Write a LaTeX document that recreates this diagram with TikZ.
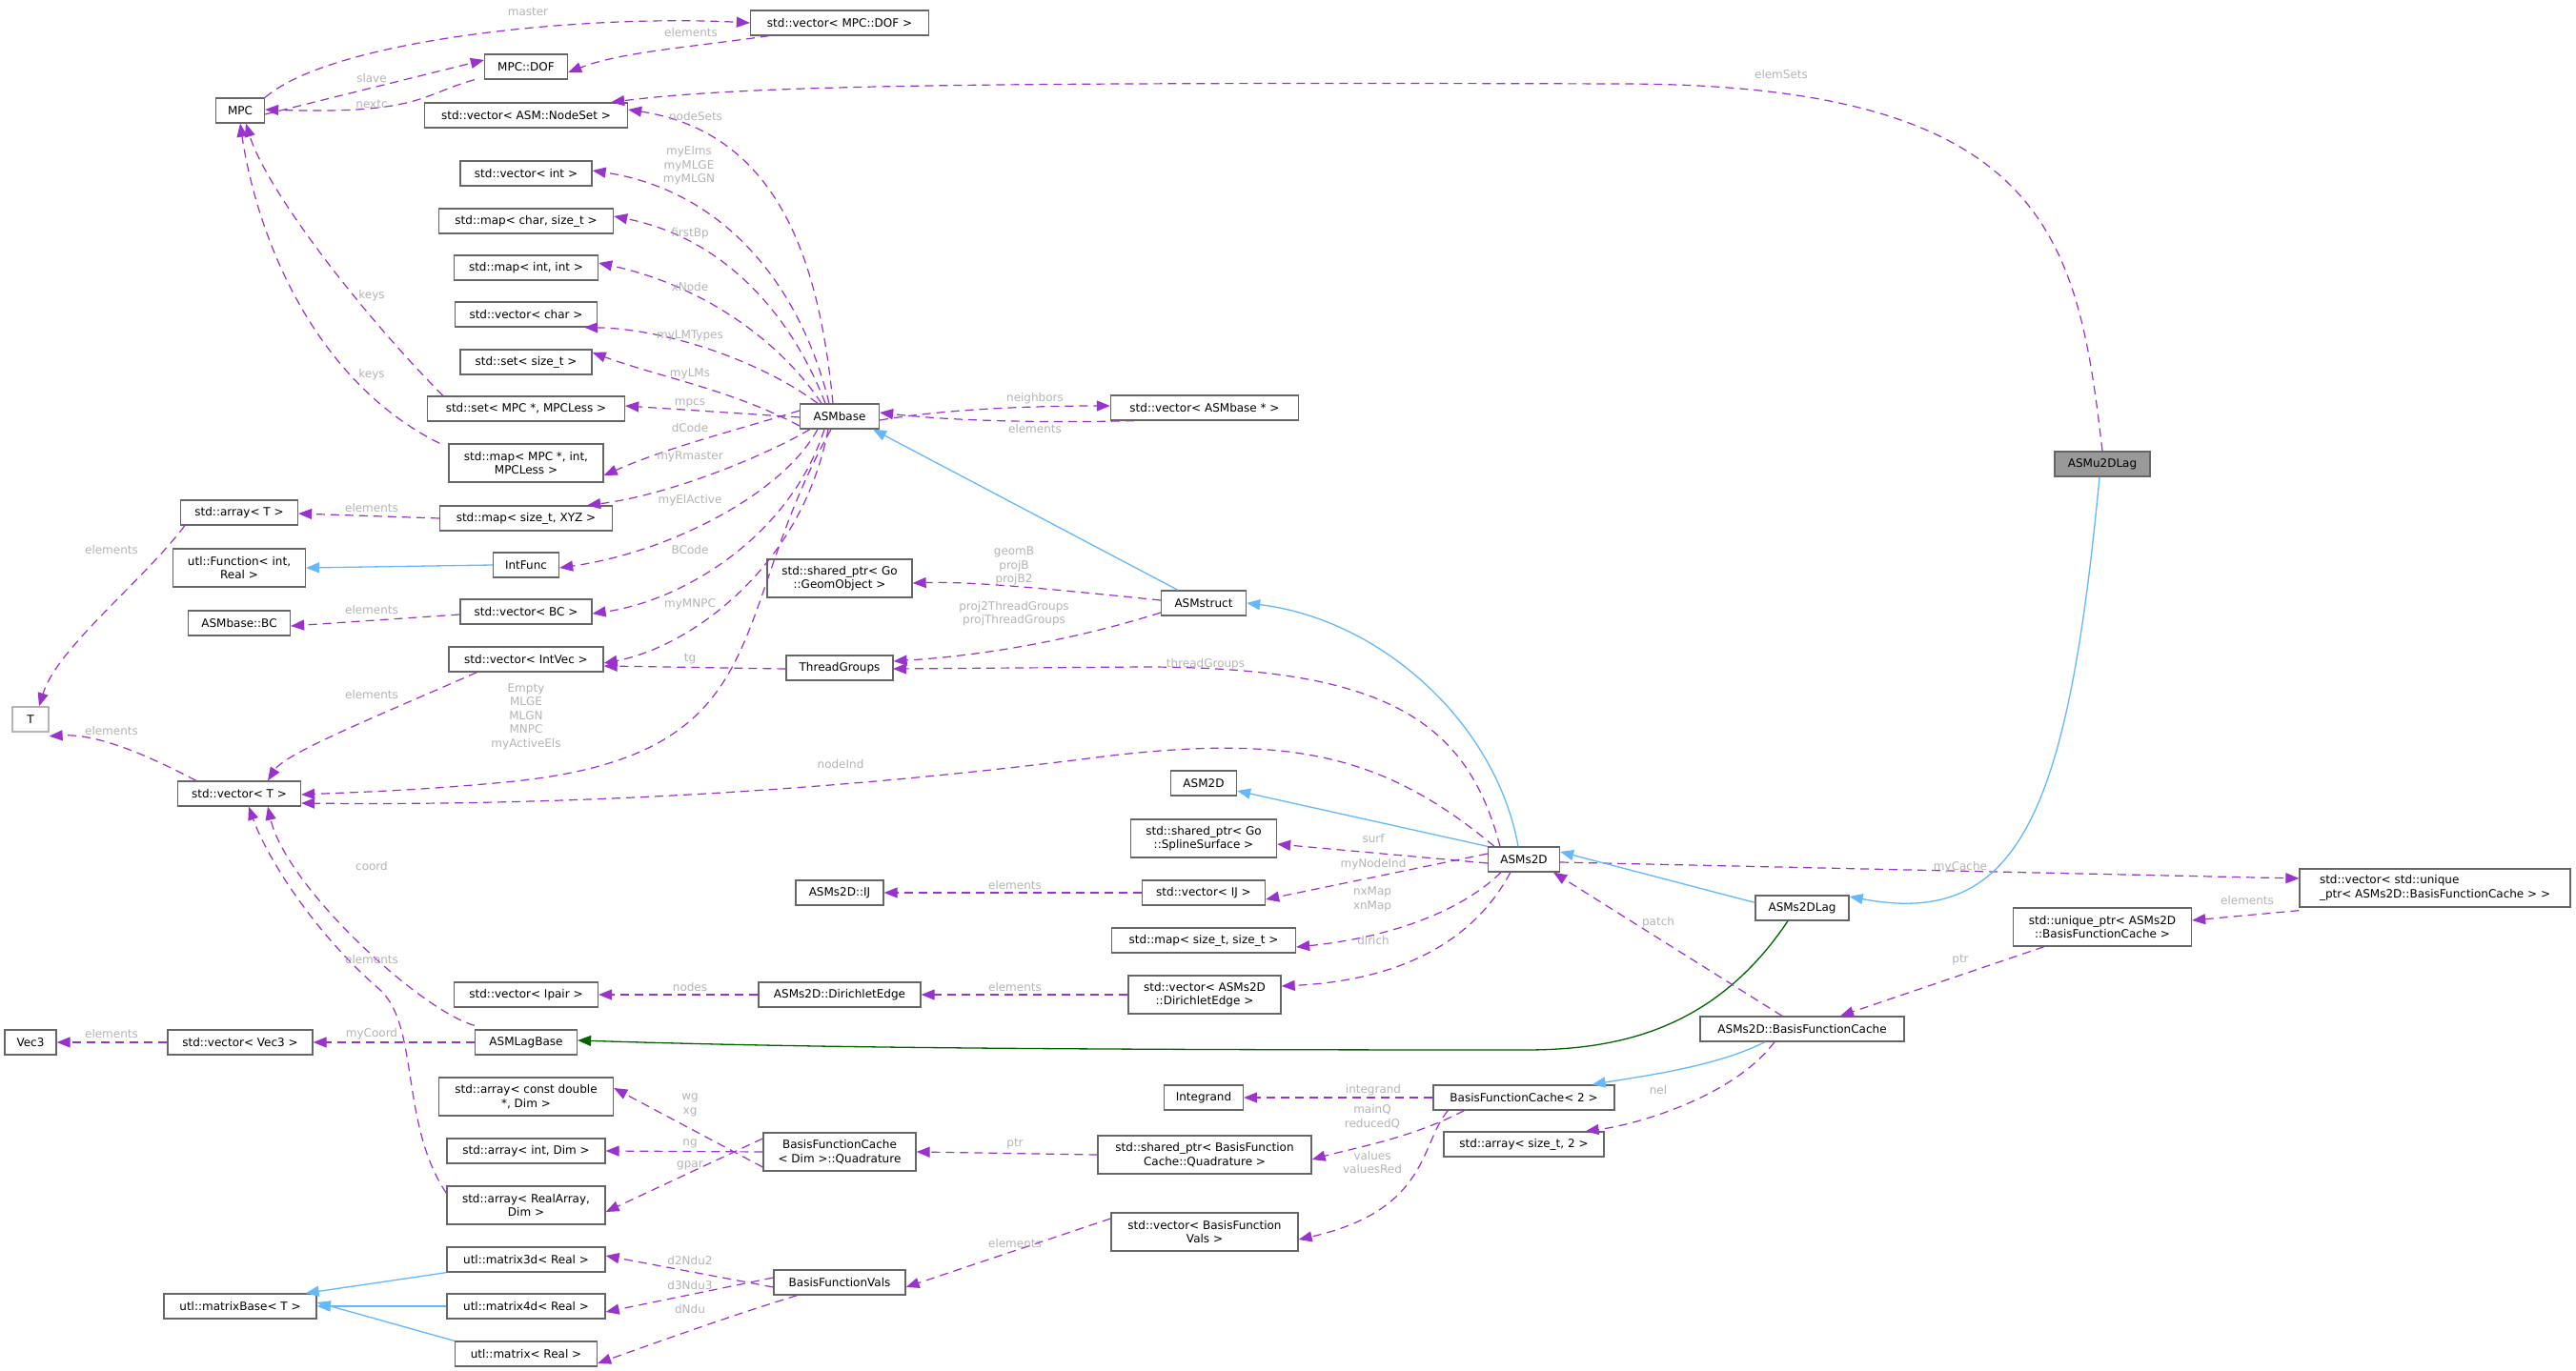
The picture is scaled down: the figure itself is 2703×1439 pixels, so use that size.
\documentclass[tikz,border=0pt]{standalone}
\usepackage{fontspec}
\setmainfont{DejaVu Sans}
\usetikzlibrary{arrows.meta}
\definecolor{bord}{HTML}{666666}
\definecolor{purp}{HTML}{9A32CD}
\definecolor{binh}{HTML}{63B8FF}
\definecolor{ginh}{HTML}{006400}
\definecolor{lgray}{HTML}{B4B4B4}
\definecolor{selg}{HTML}{999999}
\newcommand\nf{\fontsize{12}{14.5}\selectfont}
\tikzset{
 box/.style={draw=bord,fill=white,line width=1.3pt,inner sep=0pt,align=center,font=\nf},
 tip/.style={-{Triangle[length=14pt,width=11pt]}},
 mem/.style={draw=purp,line width=1.2pt,dash pattern=on 9pt off 6pt,tip,color=purp},
 inh/.style={draw=binh,line width=1.3pt,tip,color=binh},
 grn/.style={draw=ginh,line width=1.3pt,tip,color=ginh},
 lab/.style={text=lgray,font=\nf,align=center,inner sep=0pt}
}
\begin{document}
\begin{tikzpicture}[x=1pt,y=-1pt]
\useasboundingbox[fill=white] (0,0) rectangle (2703,1439);
% nodes
\node[box,minimum width=187pt,minimum height=26pt] (vdof) at (881,24) {std::vector< MPC::DOF >};
\node[box,minimum width=87pt,minimum height=26pt] (dof) at (552,70) {MPC::DOF};
\node[box,minimum width=51pt,minimum height=26pt] (mpc) at (252,116) {MPC};
\node[box,minimum width=213pt,minimum height=26pt] (vns) at (552,121) {std::vector< ASM::NodeSet >};
\node[box,minimum width=138pt,minimum height=26pt] (vint) at (552,182) {std::vector< int >};
\node[box,minimum width=183pt,minimum height=26pt] (mcs) at (552,232) {std::map< char, size\_t >};
\node[box,minimum width=151pt,minimum height=26pt] (mii) at (552,281) {std::map< int, int >};
\node[box,minimum width=149pt,minimum height=26pt] (vch) at (552,330) {std::vector< char >};
\node[box,minimum width=138pt,minimum height=26pt] (sst) at (552,380) {std::set< size\_t >};
\node[box,minimum width=207pt,minimum height=26pt] (smpc) at (552,429) {std::set< MPC *, MPCLess >};
\node[box,minimum width=162pt,minimum height=40pt] (mmpc) at (552,486) {std::map< MPC *, int,\\MPCLess >};
\node[box,minimum width=181pt,minimum height=26pt] (mxyz) at (552,544) {std::map< size\_t, XYZ >};
\node[box,minimum width=123pt,minimum height=26pt] (arrT) at (251,538) {std::array< T >};
\node[box,minimum width=139pt,minimum height=40pt] (ufun) at (251,596) {utl::Function< int,\\Real >};
\node[box,minimum width=69pt,minimum height=26pt] (ifun) at (552,593) {IntFunc};
\node[box,minimum width=107pt,minimum height=26pt] (abc) at (251,654) {ASMbase::BC};
\node[box,minimum width=138pt,minimum height=26pt] (vbc) at (552,642) {std::vector< BC >};
\node[box,minimum width=162pt,minimum height=26pt] (viv) at (552,692) {std::vector< IntVec >};
\node[box,draw=lgray,minimum width=38pt,minimum height=26pt] (T) at (32,755) {T};
\node[box,minimum width=129pt,minimum height=26pt] (vT) at (251,833) {std::vector< T >};
\node[box,minimum width=83pt,minimum height=26pt] (asmb) at (881,437) {ASMbase};
\node[box,minimum width=197pt,minimum height=26pt] (vab) at (1264,428) {std::vector< ASMbase * >};
\node[box,minimum width=152pt,minimum height=40pt] (spgo) at (881,607) {std::shared\_ptr< Go\\::GeomObject >};
\node[box,minimum width=89pt,minimum height=26pt] (asms) at (1263,633) {ASMstruct};
\node[box,minimum width=112pt,minimum height=26pt] (tg) at (881,701) {ThreadGroups};
\node[box,minimum width=69pt,minimum height=26pt] (a2d) at (1263,822) {ASM2D};
\node[box,minimum width=153pt,minimum height=40pt] (spss) at (1263,880) {std::shared\_ptr< Go\\::SplineSurface >};
\node[box,minimum width=75pt,minimum height=26pt] (s2d) at (1599,902) {ASMs2D};
\node[box,minimum width=92pt,minimum height=26pt] (ij) at (881,937) {ASMs2D::IJ};
\node[box,minimum width=129pt,minimum height=26pt] (vij) at (1263,937) {std::vector< IJ >};
\node[box,minimum width=193pt,minimum height=26pt] (mss) at (1263,987) {std::map< size\_t, size\_t >};
\node[box,minimum width=160pt,minimum height=40pt] (vde) at (1264,1044) {std::vector< ASMs2D\\::DirichletEdge >};
\node[box,minimum width=170pt,minimum height=26pt] (de) at (881,1044) {ASMs2D::DirichletEdge};
\node[box,minimum width=151pt,minimum height=26pt] (vip) at (552,1044) {std::vector< Ipair >};
\node[box,minimum width=107pt,minimum height=26pt] (lagb) at (552,1094) {ASMLagBase};
\node[box,minimum width=152pt,minimum height=26pt] (vv3) at (252,1094) {std::vector< Vec3 >};
\node[box,minimum width=54pt,minimum height=26pt] (v3) at (32,1094) {Vec3};
\node[box,minimum width=183pt,minimum height=40pt] (acd) at (552,1151) {std::array< const double\\*, Dim >};
\node[box,minimum width=166pt,minimum height=26pt] (aid) at (552,1208) {std::array< int, Dim >};
\node[box,minimum width=166pt,minimum height=40pt] (ard) at (552,1265) {std::array< RealArray,\\Dim >};
\node[box,minimum width=160pt,minimum height=40pt] (quad) at (881,1209) {BasisFunctionCache\\< Dim >::Quadrature};
\node[box,minimum width=166pt,minimum height=26pt] (m3d) at (552,1322) {utl::matrix3d< Real >};
\node[box,minimum width=160pt,minimum height=26pt] (mb) at (252,1371) {utl::matrixBase< T >};
\node[box,minimum width=166pt,minimum height=26pt] (m4d) at (552,1371) {utl::matrix4d< Real >};
\node[box,minimum width=149pt,minimum height=26pt] (mr) at (552,1421) {utl::matrix< Real >};
\node[box,minimum width=138pt,minimum height=26pt] (bfv) at (881,1346) {BasisFunctionVals};
\node[box,minimum width=196pt,minimum height=40pt] (vbfv) at (1264,1293) {std::vector< BasisFunction\\Vals >};
\node[box,minimum width=224pt,minimum height=40pt] (spq) at (1264,1212) {std::shared\_ptr< BasisFunction\\Cache::Quadrature >};
\node[box,minimum width=83pt,minimum height=26pt] (integ) at (1263,1152) {Integrand};
\node[box,minimum width=190pt,minimum height=26pt] (bfc2) at (1599,1152) {BasisFunctionCache< 2 >};
\node[box,minimum width=168pt,minimum height=26pt] (as2) at (1599,1201) {std::array< size\_t, 2 >};
\node[box,minimum width=214pt,minimum height=26pt] (sbfc) at (1891,1080) {ASMs2D::BasisFunctionCache};
\node[box,minimum width=98pt,minimum height=26pt] (s2dl) at (1891,953) {ASMs2DLag};
\node[box,minimum width=187pt,minimum height=40pt] (up) at (2206,973) {std::unique\_ptr< ASMs2D\\::BasisFunctionCache >};
\node[box,minimum width=284pt,minimum height=40pt,align=left] (vup) at (2555,932) {std::vector< std::unique\\\_ptr< ASMs2D::BasisFunctionCache > >};
\node[box,fill=selg,minimum width=100pt,minimum height=26pt] (u2dl) at (2206,487) {ASMu2DLag};
% edges
\draw[mem] (mpc.north east) .. controls (350,40) and (620,15) .. (vdof.west);
\draw[mem] ([xshift=20pt]vdof.south west) .. controls (720,50) and (650,55) .. ([yshift=-6pt]dof.east);
\draw[mem] ([yshift=-4pt]mpc.east) -- ([yshift=7pt]dof.west);
\draw[mem] ([xshift=-10pt]dof.south west) .. controls (440,100) and (440,120) .. ([yshift=1pt]mpc.east);
\draw[mem] (u2dl.north) .. controls (2180,250) and (2150,88) .. (1700,88) .. controls (1000,86) and (780,90) .. ([xshift=-18pt]vns.north east);
\draw[mem] ([xshift=-7pt]asmb.north) .. controls (860,280) and (820,140) .. ([yshift=6pt]vns.east);
\draw[mem] ([xshift=-11pt]asmb.north) .. controls (840,300) and (760,200) .. ([yshift=3pt]vint.east);
\draw[mem] ([xshift=-15pt]asmb.north) .. controls (830,330) and (760,250) .. ([yshift=5pt]mcs.east);
\draw[mem] ([xshift=-19pt]asmb.north) .. controls (820,360) and (740,300) .. ([yshift=5pt]mii.east);
\draw[mem] ([xshift=-23pt]asmb.north) .. controls (800,380) and (700,345) .. ([xshift=-14pt]vch.south east);
\draw[mem] ([yshift=-10pt]asmb.west) .. controls (770,410) and (690,395) .. ([yshift=10pt]sst.east);
\draw[mem] ([yshift=-1pt]asmb.west) -- ([yshift=3pt]smpc.east);
\draw[mem] ([yshift=6pt]asmb.west) .. controls (760,455) and (700,470) .. ([yshift=-13pt]mmpc.east);
\draw[mem] ([xshift=11pt]asmb.south west) .. controls (800,480) and (700,520) .. ([xshift=-27pt]mxyz.north east);
\draw[mem] ([xshift=19pt]asmb.south west) .. controls (820,520) and (700,580) .. ([yshift=-3pt]ifun.east);
\draw[mem] ([xshift=-16pt]asmb.south) .. controls (830,560) and (720,630) .. ([yshift=-2pt]vbc.east);
\draw[mem] ([xshift=-12pt]asmb.south) .. controls (840,600) and (720,680) .. ([yshift=-4pt]viv.east);
\draw[mem] ([xshift=-9pt]asmb.south) .. controls (760,650) and (820,790) .. (540,820) .. controls (440,830) and (360,832) .. ([yshift=-1pt]vT.east);
\draw[mem] ([yshift=-4pt]asmb.east) .. controls (1000,428) and (1100,426) .. ([yshift=2pt]vab.west);
\draw[mem] ([xshift=25pt]vab.south west) .. controls (1100,444) and (1000,442) .. ([yshift=4pt]asmb.east);
\draw[mem] ([xshift=17pt]smpc.north west) .. controls (380,330) and (280,200) .. ([xshift=6pt]mpc.south);
\draw[mem] ([xshift=-9pt]mmpc.north west) .. controls (330,400) and (270,250) .. (mpc.south);
\draw[mem] (mxyz.west) -- ([yshift=-1pt]arrT.east);
\draw[mem] ([xshift=5pt]arrT.south west) .. controls (150,610) and (60,680) .. ([xshift=9pt]T.north);
\draw[inh] (ifun.west) -- (ufun.east);
\draw[mem] ([yshift=-3pt]vbc.west) -- ([yshift=-3pt]abc.east);
\draw[mem] ([xshift=30pt]viv.south west) .. controls (400,750) and (300,790) .. ([xshift=30pt]vT.north);
\draw[mem] ([yshift=-1pt]tg.west) -- ([yshift=-7pt]viv.east);
\draw[mem] ([xshift=20pt]vT.north west) .. controls (150,790) and (100,770) .. ([yshift=-4pt]T.south east);
\draw[inh] ([xshift=-27pt]asms.north) -- ([xshift=35pt]asmb.south);
\draw[mem] ([yshift=3pt]asms.west) .. controls (1100,618) and (1020,610) .. ([yshift=-5pt]spgo.east);
\draw[mem] ([yshift=-10pt]asms.west) .. controls (1100,680) and (1000,690) .. ([yshift=7pt]tg.east);
\draw[mem] ([xshift=-25pt]s2d.north) .. controls (1540,760) and (1460,700) .. (1200,700) -- (937,702);
\draw[mem] ([xshift=-31pt]s2d.north) .. controls (1450,790) and (1350,770) .. (1150,795) .. controls (800,840) and (500,845) .. ([yshift=-10pt]vT.east);
\draw[inh] ([xshift=-6pt]s2d.north) .. controls (1570,760) and (1450,650) .. (asms.east);
\draw[inh] (s2d.north west) -- ([yshift=-8pt]a2d.east);
\draw[mem] ([yshift=-4pt]s2d.west) -- ([yshift=-6pt]spss.east);
\draw[mem] ([yshift=6pt]s2d.west) -- ([yshift=-7pt]vij.east);
\draw[mem] ([xshift=14pt]s2d.south west) .. controls (1530,960) and (1450,985) .. ([yshift=-7pt]mss.east);
\draw[mem] ([xshift=24pt]s2d.south west) .. controls (1540,1000) and (1450,1030) .. ([yshift=9pt]vde.east);
\draw[mem] ([yshift=-3pt]s2d.east) -- ([yshift=10pt]vup.west);
\draw[mem] (vij.west) -- (ij.east);
\draw[mem] (vde.west) -- (de.east);
\draw[mem] (de.west) -- (vip.east);
\draw[mem] ([yshift=4pt]lagb.north west) .. controls (440,1060) and (300,930) .. ([xshift=30pt]vT.south);
\draw[mem] ([yshift=-8pt]ard.north west) .. controls (420,1180) and (440,1080) .. (400,1040) .. controls (330,980) and (280,900) .. ([xshift=10pt]vT.south);
\draw[mem] (lagb.west) -- (vv3.east);
\draw[mem] (vv3.west) -- (v3.east);
\draw[inh] ([yshift=-8pt]s2dl.north west) -- ([yshift=8pt]s2d.east);
\draw[grn] ([xshift=-15pt]s2dl.south) .. controls (1800,1080) and (1700,1102) .. (1600,1102) .. controls (1000,1102) and (800,1098) .. ([yshift=2pt]lagb.east);
\draw[inh] ([xshift=-3pt]u2dl.south) .. controls (2170,850) and (2120,975) .. ([yshift=12pt]s2dl.east);
\draw[mem] ([xshift=-21pt]sbfc.north) -- ([xshift=31pt]s2d.south);
\draw[mem] ([xshift=33pt]up.south west) -- ([xshift=40pt]sbfc.north);
\draw[mem] ([yshift=-3pt]vup.south west) -- ([yshift=7pt]up.east);
\draw[inh] ([xshift=-39pt]sbfc.south) .. controls (1800,1120) and (1720,1130) .. ([xshift=-24pt]bfc2.north east);
\draw[mem] ([xshift=-29pt]sbfc.south) .. controls (1820,1150) and (1720,1180) .. ([xshift=-20pt]as2.north east);
\draw[mem] (bfc2.west) -- (integ.east);
\draw[mem] ([xshift=33pt]bfc2.south west) .. controls (1480,1195) and (1420,1205) .. ([yshift=-5pt]spq.east);
\draw[mem] ([xshift=16pt]bfc2.south west) .. controls (1490,1200) and (1500,1270) .. ([yshift=-8pt]vbfv.east);
\draw[mem] (spq.west) -- (quad.east);
\draw[mem] ([yshift=-16pt]quad.west) -- ([yshift=9pt]acd.east);
\draw[mem] (quad.west) -- (aid.east);
\draw[mem] ([yshift=14pt]quad.west) -- ([yshift=-7pt]ard.east);
\draw[mem] ([yshift=14pt]vbfv.west) -- ([yshift=-5pt]bfv.east);
\draw[mem] ([yshift=-5pt]bfv.west) -- ([yshift=4pt]m3d.east);
\draw[mem] ([yshift=5pt]bfv.west) -- ([yshift=-6pt]m4d.east);
\draw[mem] ([xshift=25pt]bfv.south west) .. controls (770,1380) and (700,1405) .. ([yshift=-10pt]mr.east);
\draw[inh] (m3d.south west) -- ([xshift=-12pt]mb.north east);
\draw[inh] (m4d.west) -- (mb.east);
\draw[inh] (mr.north west) -- ([yshift=4pt]mb.east);
% labels
\node[lab] (l1) at (554,12) {master};
\node[lab] (l2) at (725,34) {elements};
\node[lab] (l3) at (390,82) {slave};
\node[lab] (l4) at (390,109) {nextc};
\node[lab] (l5) at (1869,78) {elemSets};
\node[lab] (l6) at (730,122) {nodeSets};
\node[lab] (l7) at (723,174) {myElms\\myMLGE\\myMLGN};
\node[lab] (l8) at (724,245) {firstBp};
\node[lab] (l9) at (724,301) {xNode};
\node[lab] (l10) at (724,352) {myLMTypes};
\node[lab] (l11) at (724,392) {myLMs};
\node[lab] (l12) at (724,423) {mpcs};
\node[lab] (l13) at (724,449) {dCode};
\node[lab] (l14) at (724,479) {myRmaster};
\node[lab] (l15) at (390,310) {keys};
\node[lab] (l16) at (390,393) {keys};
\node[lab] (l17) at (390,533) {elements};
\node[lab] (l18) at (724,525) {myElActive};
\node[lab] (l19) at (724,577) {BCode};
\node[lab] (l20) at (390,640) {elements};
\node[lab] (l21) at (724,634) {myMNPC};
\node[lab] (l22) at (724,692) {tg};
\node[lab] (l23) at (390,729) {elements};
\node[lab] (l24) at (552,752) {Empty\\MLGE\\MLGN\\MNPC\\myActiveEls};
\node[lab] (l25) at (117,577) {elements};
\node[lab] (l26) at (117,767) {elements};
\node[lab] (l27) at (882,802) {nodeInd};
\node[lab] (l28) at (390,909) {coord};
\node[lab] (l29) at (390,1007) {elements};
\node[lab] (l30) at (724,1036) {nodes};
\node[lab] (l31) at (117,1085) {elements};
\node[lab] (l32) at (390,1085) {myCoord};
\node[lab] (l33) at (724,1160) {wg\\xg};
\node[lab] (l34) at (724,1200) {ng};
\node[lab] (l35) at (724,1223) {gpar};
\node[lab] (l36) at (724,1323) {d2Ndu2};
\node[lab] (l37) at (724,1349) {d3Ndu3};
\node[lab] (l38) at (724,1374) {dNdu};
\node[lab] (l39) at (1064,594) {geomB\\projB\\projB2};
\node[lab] (l40) at (1064,644) {proj2ThreadGroups\\projThreadGroups};
\node[lab] (l41) at (1265,697) {threadGroups};
\node[lab] (l42) at (1441,880) {surf};
\node[lab] (l43) at (1441,907) {myNodeInd};
\node[lab] (l44) at (1440,944) {nxMap\\xnMap};
\node[lab] (l45) at (1065,929) {elements};
\node[lab] (l46) at (1740,968) {patch};
\node[lab] (l47) at (1441,987) {dirich};
\node[lab] (l48) at (1065,1036) {elements};
\node[lab] (l49) at (1441,1144) {integrand};
\node[lab] (l50) at (1740,1144) {nel};
\node[lab] (l51) at (1440,1172) {mainQ\\reducedQ};
\node[lab] (l52) at (1065,1201) {ptr};
\node[lab] (l53) at (1440,1220) {values\\valuesRed};
\node[lab] (l54) at (1065,1305) {elements};
\node[lab] (l55) at (2057,910) {myCache};
\node[lab] (l56) at (2358,945) {elements};
\node[lab] (l57) at (2057,1008) {ptr};
\node[lab] (l58) at (1086,418) {neighbors};
\node[lab] (l59) at (1086,450) {elements};
\end{tikzpicture}
\end{document}
